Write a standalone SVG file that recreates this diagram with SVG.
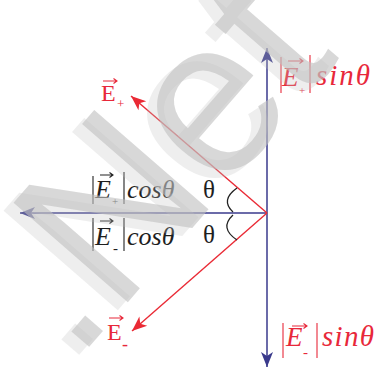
<svg xmlns="http://www.w3.org/2000/svg" width="377" height="371" viewBox="0 0 377 371">
<defs>
<style>
.blue{stroke:#3a3a8c;stroke-width:1.5;fill:none}
.red{stroke:#ea2a35;stroke-width:1.4;fill:none}
.rt{fill:#e8283a;font-family:"Liberation Serif",serif}
.bt{fill:#1e1e1e;font-family:"Liberation Serif",serif}
.it{font-style:italic}
.barr{stroke:#e8283a;stroke-width:1.1}
.bark{stroke:#222;stroke-width:1.1}
.vr{stroke:#e8283a;stroke-width:1.1;fill:none}
.vk{stroke:#222;stroke-width:1.1;fill:none}
.brace{stroke:#222;stroke-width:1.3;fill:none}
.wm{font-family:"Liberation Sans",sans-serif;font-size:220px}
</style>
<marker id="ab" viewBox="-16 -7 17 14" refX="0" refY="0" markerWidth="17" markerHeight="14" markerUnits="userSpaceOnUse" orient="auto"><path d="M0,0 L-15,-6 L-11,0 L-15,6 Z" fill="#3a3a8c"/></marker>
<marker id="ar" viewBox="-16 -7 17 14" refX="0" refY="0" markerWidth="17" markerHeight="14" markerUnits="userSpaceOnUse" orient="auto"><path d="M0,0 L-15,-6 L-11,0 L-15,6 Z" fill="#ea2a35"/></marker>
</defs>
<rect width="377" height="371" fill="#ffffff"/>

<g id="connectors">
<line class="blue" x1="267" y1="213" x2="267" y2="48" marker-end="url(#ab)"/>
<line class="blue" x1="267" y1="213" x2="267" y2="367" marker-end="url(#ab)"/>
<line class="blue" x1="267" y1="213" x2="20" y2="213" marker-end="url(#ab)"/>
<line class="red" x1="267" y1="213" x2="131" y2="96" marker-end="url(#ar)"/>
<line class="red" x1="267" y1="213" x2="132" y2="331" marker-end="url(#ar)"/>
<path class="brace" d="M237,188 Q220,200 233,212"/>
<path class="brace" d="M233,215 Q219,228 237,240"/>
</g>

<g id="label-Eplus">
<text class="rt" x="101" y="101" font-size="24">E</text>
<text class="rt" x="117" y="108" font-size="13">+</text>
<path class="vr" d="M103,81 H117 M113.5,78.5 L117,81 L113.5,83.5"/>
</g>

<g id="label-Eminus">
<text class="rt" x="107" y="340" font-size="24">E</text>
<text class="rt" x="122" y="350" font-size="18">-</text>
<path class="vr" d="M109,318 H123 M119.5,315.5 L123,318 L119.5,320.5"/>
</g>

<g id="label-Eplus-sin">
<line class="barr" x1="281" y1="57" x2="281" y2="93"/>
<text class="rt it" x="282" y="86" font-size="27">E</text>
<path class="vr" d="M288,61 H303 M299.5,58.5 L303,61 L299.5,63.5"/>
<text class="rt" x="299" y="94" font-size="11">+</text>
<line class="barr" x1="310" y1="55" x2="310" y2="93"/>
<text class="rt it" x="316" y="85" font-size="29" textLength="54">sinθ</text>
</g>

<g id="label-Eminus-sin">
<line class="barr" x1="283" y1="323" x2="283" y2="358"/>
<text class="rt it" x="286" y="346" font-size="27">E</text>
<path class="vr" d="M292,326 H307 M303.5,323.5 L307,326 L303.5,328.5"/>
<text class="rt" x="303" y="357" font-size="15">-</text>
<line class="barr" x1="317" y1="323" x2="317" y2="358"/>
<text class="rt it" x="322" y="346" font-size="29" textLength="52">sinθ</text>
</g>

<g id="label-Eplus-cos">
<line class="bark" x1="93" y1="176" x2="93" y2="204"/>
<text class="bt it" x="95" y="198" font-size="26">E</text>
<path class="vk" d="M100,175 H113 M109.5,172.5 L113,175 L109.5,177.5"/>
<text class="bt" x="112" y="205" font-size="11">+</text>
<line class="bark" x1="124" y1="172" x2="124" y2="204"/>
<text class="bt it" x="127" y="198" font-size="26">cosθ</text>
</g>

<g id="label-Eminus-cos">
<line class="bark" x1="93" y1="218" x2="93" y2="251"/>
<text class="bt it" x="95" y="245" font-size="26">E</text>
<path class="vk" d="M100,221 H113 M109.5,218.5 L113,221 L109.5,223.5"/>
<text class="bt" x="113" y="253" font-size="15">-</text>
<line class="bark" x1="124" y1="218" x2="124" y2="251"/>
<text class="bt it" x="127" y="245" font-size="26">cosθ</text>
</g>

<g id="theta-labels">
<text class="bt" x="203" y="198" font-size="25">θ</text>
<text class="bt" x="203" y="243" font-size="25">θ</text>
</g>

<g id="watermark">
<text class="wm" transform="translate(66,370) rotate(-49)" fill="#c0c0c0" fill-opacity="0.27">.Net</text>
<text class="wm" transform="translate(76,362) rotate(-49)" fill="#c0c0c0" fill-opacity="0.62">.Net</text>
</g>
</svg>
